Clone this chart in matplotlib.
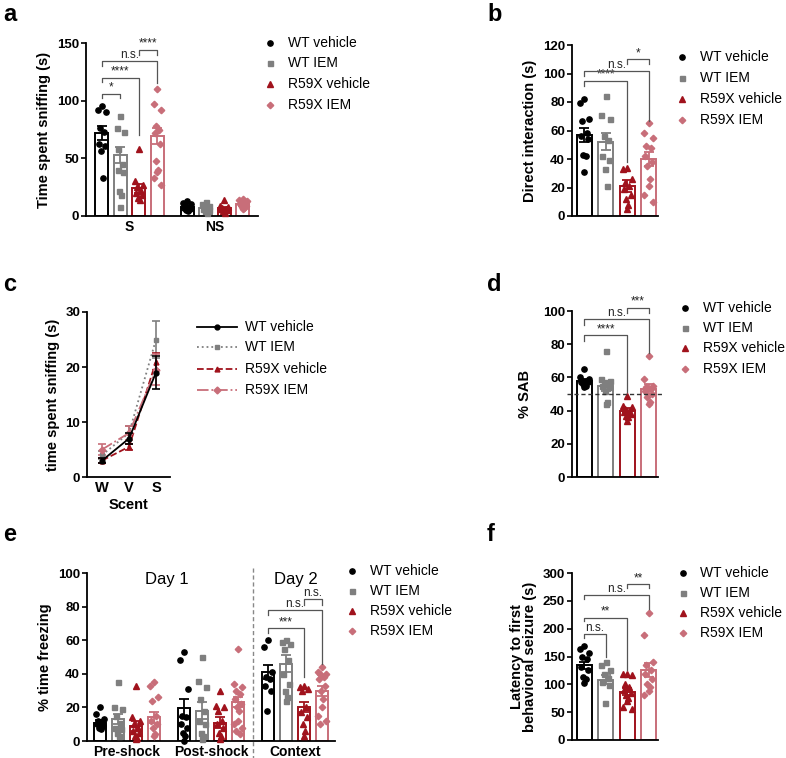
import numpy as np
import matplotlib
matplotlib.use('Agg')
from matplotlib import pyplot as plt
from matplotlib.lines import Line2D

plt.rcParams['font.family'] = ['Liberation Sans', 'DejaVu Sans']

W, H = 786, 758

groups = ['WT vehicle', 'WT IEM', 'R59X vehicle', 'R59X IEM']
colors = ['#000000', '#7f7f7f', '#a0121c', '#c86e79']
markers = ['o', 's', '^', 'D']
msizes = [3.8, 3.6, 3.8, 3.3]

# ---- panel a : sniffing, social (S) / non-social (NS)
a_cats = ['S', 'NS']
a_means_S = [72, 53, 24, 69]
a_sem_S = [6, 7, 4, 7]
a_pts_S = [[95, 92, 90, 76, 73, 62, 61, 56, 33],
           [87, 76, 73, 58, 45, 40, 38, 22, 18, 8],
           [58, 30, 27, 25, 22, 20, 18, 16, 14],
           [110, 97, 92, 78, 75, 72, 62, 48, 40, 38, 33, 27]]
a_means_NS = [8, 7, 7, 10]
a_sem_NS = [1, 1, 1, 1]
a_pts_NS = [[13, 11, 10, 9, 8, 7, 6, 5, 4],
            [12, 10, 9, 8, 7, 6, 5, 4, 3],
            [14, 9, 8, 7, 6, 6, 5, 4, 3],
            [15, 14, 13, 12, 11, 10, 9, 8, 7, 6]]

# ---- panel b : direct interaction
b_means = [57, 52, 21, 40]
b_sem = [5, 6, 4, 5]
b_pts = [[82, 79, 68, 67, 58, 56, 54, 43, 42, 31],
         [84, 71, 68, 56, 53, 42, 39, 33, 21],
         [34, 33, 26, 23, 21, 19, 15, 12, 8, 5],
         [65, 58, 55, 49, 48, 42, 38, 35, 26, 21, 15, 10]]

# ---- panel c : olfactory habituation
c_scent = ['W', 'V', 'S']
c_means = [[3.0, 7.0, 19.0],
           [4.0, 8.0, 25.0],
           [3.0, 5.5, 21.0],
           [5.0, 8.0, 19.5]]
c_sem = [[0.5, 1.0, 3.0],
         [0.8, 1.2, 3.4],
         [0.4, 0.5, 1.5],
         [1.0, 1.3, 2.8]]
c_styles = ['-', ':', '--', '-.']

# ---- panel d : spontaneous alternation
d_means = [58, 55, 40, 53]
d_sem = [1, 3, 1.5, 3]
d_pts = [[65, 60, 59, 58, 58, 57, 57, 56, 55, 54],
         [76, 59, 58, 57, 56, 55, 54, 52, 45, 44],
         [49, 43, 42, 41, 40, 39, 38, 37, 36, 34],
         [73, 59, 55, 54, 53, 52, 50, 48, 45, 44]]
d_chance = 50

# ---- panel e : fear conditioning
e_cats = ['Pre-shock', 'Post-shock', 'Context']
e_means = [[11, 13, 9, 14],
           [19.5, 18, 11, 23],
           [41, 46, 20, 30]]
e_sem = [[1.5, 3, 3, 3],
         [5.5, 5, 3, 3],
         [4, 5, 3, 3]]
e_pts = [[[20, 16, 13, 12, 11, 10, 9, 8, 7],
          [35, 20, 19, 15, 11, 8, 7, 5, 3],
          [33, 14, 12, 10, 8, 6, 5, 3, 2, 1],
          [35, 33, 26, 24, 15, 12, 10, 8, 4, 3]],
         [[53, 48, 31, 15, 14, 10, 8, 5, 3, 0],
          [50, 36, 32, 25, 18, 12, 10, 5, 3, 1],
          [30, 21, 20, 18, 12, 10, 8, 5, 3, 1],
          [55, 34, 32, 30, 28, 25, 22, 20, 18, 12, 10, 8, 6, 4]],
         [[60, 56, 41, 38, 37, 33, 30, 18],
          [60, 59, 58, 55, 48, 40, 34, 30, 26, 24],
          [33, 32, 31, 30, 20, 17, 14, 10, 6, 3],
          [44, 41, 40, 40, 38, 37, 33, 30, 25, 20, 15, 12, 10]]]

# ---- panel f : seizure latency
f_means = [134, 108, 87, 126]
f_sem = [7, 8, 6, 13]
f_pts = [[168, 164, 157, 149, 146, 131, 126, 114, 109, 102],
         [140, 135, 125, 118, 112, 105, 98, 67],
         [119, 118, 117, 100, 95, 90, 85, 80, 75, 70, 60, 55],
         [228, 188, 140, 135, 125, 118, 110, 100, 95, 88, 80]]


def rect(l, t, r, b):
    return [l / W, 1 - b / H, (r - l) / W, (b - t) / H]


def style(ax, yticks):
    for s in ['top', 'right']:
        ax.spines[s].set_visible(False)
    for s in ['left', 'bottom']:
        ax.spines[s].set_linewidth(1.3)
    ax.set_yticks(yticks)
    ax.tick_params(axis='y', length=3.5, width=1.2, labelsize=9.5, pad=1.5)
    ax.tick_params(axis='x', length=0, labelsize=10, pad=3)
    for t in ax.get_yticklabels() + ax.get_xticklabels():
        t.set_fontweight('bold')


def offsets(n, w=0.21):
    pat = [0, -1, 1, -0.5, 0.5, -0.75, 0.75, -0.25, 0.25]
    return np.array([pat[i % len(pat)] * w for i in range(n)])


def bars(ax, xs, means, sems, pts):
    for i in range(4):
        ax.bar(xs[i], means[i], width=0.7, facecolor='white', edgecolor=colors[i],
               linewidth=1.4, zorder=2)
        v = np.array(pts[i], dtype=float)
        ax.plot(xs[i] + offsets(len(v)), v, ls='none', marker=markers[i],
                ms=msizes[i], color=colors[i], mec=colors[i], zorder=3, clip_on=False)
        ax.errorbar(xs[i], means[i], yerr=sems[i], fmt='none', ecolor=colors[i],
                    capsize=3.5, elinewidth=1.3, capthick=1.3, zorder=4)


def bracket(ax, x1, x2, y, y1, y2, label):
    ax.plot([x1, x1, x2, x2], [y1, y, y, y2], color='#555555', lw=0.9,
            clip_on=False, zorder=5)
    ax.text((x1 + x2) / 2, y, label, ha='center', va='bottom', fontsize=8.5,
            color='#222222')


def legend(fig, mx, tx, ys, lines=False):
    for i, y in enumerate(ys):
        fy = 1 - y / H
        if lines:
            fig.add_artist(Line2D([mx - 20 / W, mx + 20 / W], [fy, fy],
                                  transform=fig.transFigure, color=colors[i],
                                  ls=c_styles[i], lw=1.3))
            fig.add_artist(Line2D([mx], [fy], transform=fig.transFigure, ls='none',
                                  color=colors[i], marker=markers[i], ms=3.5))
        else:
            fig.add_artist(Line2D([mx], [fy], transform=fig.transFigure, ls='none',
                                  color=colors[i], marker=markers[i], ms=msizes[i]))
        fig.text(tx, fy, groups[i], fontsize=10, va='center', ha='left')


def letter(fig, x, y, s):
    fig.text(x / W, 1 - y / H, s, fontsize=17, fontweight='bold', va='baseline')


fig = plt.figure(figsize=(W / 100, H / 100), dpi=100)
fig.patch.set_facecolor('white')

# a
ax = fig.add_axes(rect(86, 43, 258, 216))
xs_S = np.arange(4.0)
xs_NS = xs_S + 4.6
bars(ax, xs_S, a_means_S, a_sem_S, a_pts_S)
bars(ax, xs_NS, a_means_NS, a_sem_NS, a_pts_NS)
ax.set_xlim(-0.86, 8.43)
ax.set_ylim(0, 150)
ax.set_xticks([1.5, 6.1])
ax.set_xticklabels(a_cats)
style(ax, [0, 50, 100, 150])
ax.set_ylabel('Time spent sniffing (s)', fontsize=10.5, fontweight='bold')
bracket(ax, 0, 1, 106, 102, 102, '*')
bracket(ax, 0, 2, 120, 116, 70, '****')
bracket(ax, 0, 3, 134, 130, 115, 'n.s.')
bracket(ax, 2, 3, 144, 140, 140, '****')
legend(fig, 270 / W, 288 / W, [43, 63, 84, 105])
letter(fig, 3, 21, 'a')

# b
ax = fig.add_axes(rect(572, 45, 658, 216))
bars(ax, np.arange(4.0), b_means, b_sem, b_pts)
ax.set_xlim(-0.58, 3.44)
ax.set_ylim(0, 120)
ax.set_xticks([])
style(ax, [0, 20, 40, 60, 80, 100, 120])
ax.set_ylabel('Direct interaction (s)', fontsize=10.5, fontweight='bold')
bracket(ax, 0, 2, 95, 91, 38, '****')
bracket(ax, 0, 3, 102, 98, 67, 'n.s.')
bracket(ax, 2, 3, 110, 107, 107, '*')
legend(fig, 682 / W, 700 / W, [57, 78, 99, 120])
letter(fig, 487, 21, 'b')

# c
ax = fig.add_axes(rect(87, 312, 170, 477))
xc = np.arange(3.0)
for i in range(4):
    ax.errorbar(xc, c_means[i], yerr=c_sem[i], color=colors[i], ls=c_styles[i],
                lw=1.3, marker=markers[i], ms=3.5, capsize=3, elinewidth=1.2,
                capthick=1.2, zorder=3 + (1 if i == 0 else 0))
ax.set_xlim(-0.56, 2.52)
ax.set_ylim(0, 30)
ax.set_xticks(xc)
ax.set_xticklabels(c_scent)
style(ax, [0, 10, 20, 30])
ax.tick_params(axis='x', labelsize=10.5)
ax.set_ylabel('time spent sniffing (s)', fontsize=10.5, fontweight='bold')
ax.set_xlabel('Scent', fontsize=10.5, fontweight='bold', labelpad=2)
legend(fig, 217 / W, 245 / W, [327, 347, 369, 390], lines=True)
letter(fig, 3, 291, 'c')

# d
ax = fig.add_axes(rect(572, 311, 658, 477))
bars(ax, np.arange(4.0), d_means, d_sem, d_pts)
ax.plot([-0.8, 3.68], [d_chance, d_chance], color='#333333', ls=(0, (3, 2)),
        lw=1.0, clip_on=False, zorder=6)
ax.set_xlim(-0.58, 3.44)
ax.set_ylim(0, 100)
ax.set_xticks([])
style(ax, [0, 20, 40, 60, 80, 100])
ax.set_ylabel('% SAB', fontsize=10.5, fontweight='bold', labelpad=8)
bracket(ax, 0, 2, 85.5, 82, 51, '****')
bracket(ax, 0, 3, 95, 91.5, 75, 'n.s.')
bracket(ax, 2, 3, 102, 99, 99, '***')
legend(fig, 685 / W, 703 / W, [308, 328, 348, 369])
letter(fig, 487, 291, 'd')

# e
ax = fig.add_axes(rect(87, 573, 335, 741))
base = [0.0, 4.67, 9.33]
for g in range(3):
    bars(ax, base[g] + np.arange(4.0), e_means[g], e_sem[g], e_pts[g])
ax.plot([8.5, 8.5], [103, -10], color='#888888', ls=(0, (3, 2)), lw=1.0,
        clip_on=False, zorder=6)
ax.set_xlim(-0.72, 13.05)
ax.set_ylim(0, 100)
ax.set_xticks([b + 1.5 for b in base])
ax.set_xticklabels(e_cats)
style(ax, [0, 20, 40, 60, 80, 100])
ax.set_ylabel('% time freezing', fontsize=10.5, fontweight='bold')
ax.text(3.7, 96, 'Day 1', fontsize=12, ha='center', va='center')
ax.text(10.85, 96, 'Day 2', fontsize=12, ha='center', va='center')
bracket(ax, 9.33, 11.33, 67, 64, 38, '***')
bracket(ax, 9.33, 12.33, 78, 75, 46, 'n.s.')
bracket(ax, 11.33, 12.33, 84.5, 81, 81, 'n.s.')
legend(fig, 352 / W, 370 / W, [571, 591, 611, 631])
letter(fig, 3, 541, 'e')

# f
ax = fig.add_axes(rect(572, 573, 658, 740))
bars(ax, np.arange(4.0), f_means, f_sem, f_pts)
ax.set_xlim(-0.58, 3.44)
ax.set_ylim(0, 300)
ax.set_xticks([])
style(ax, [0, 50, 100, 150, 200, 250, 300])
ax.set_ylabel('Latency to first\nbehavioral seizure (s)', fontsize=10.5,
              fontweight='bold', linespacing=0.95)
bracket(ax, 0, 1, 190, 184, 149, 'n.s.')
bracket(ax, 0, 2, 220, 213, 125, '**')
bracket(ax, 0, 3, 260, 253, 236, 'n.s.')
bracket(ax, 2, 3, 280, 273, 273, '**')
legend(fig, 683 / W, 700 / W, [573, 593, 613, 633])
letter(fig, 487, 541, 'f')

fig.savefig('out.png', dpi=100, facecolor='white')
